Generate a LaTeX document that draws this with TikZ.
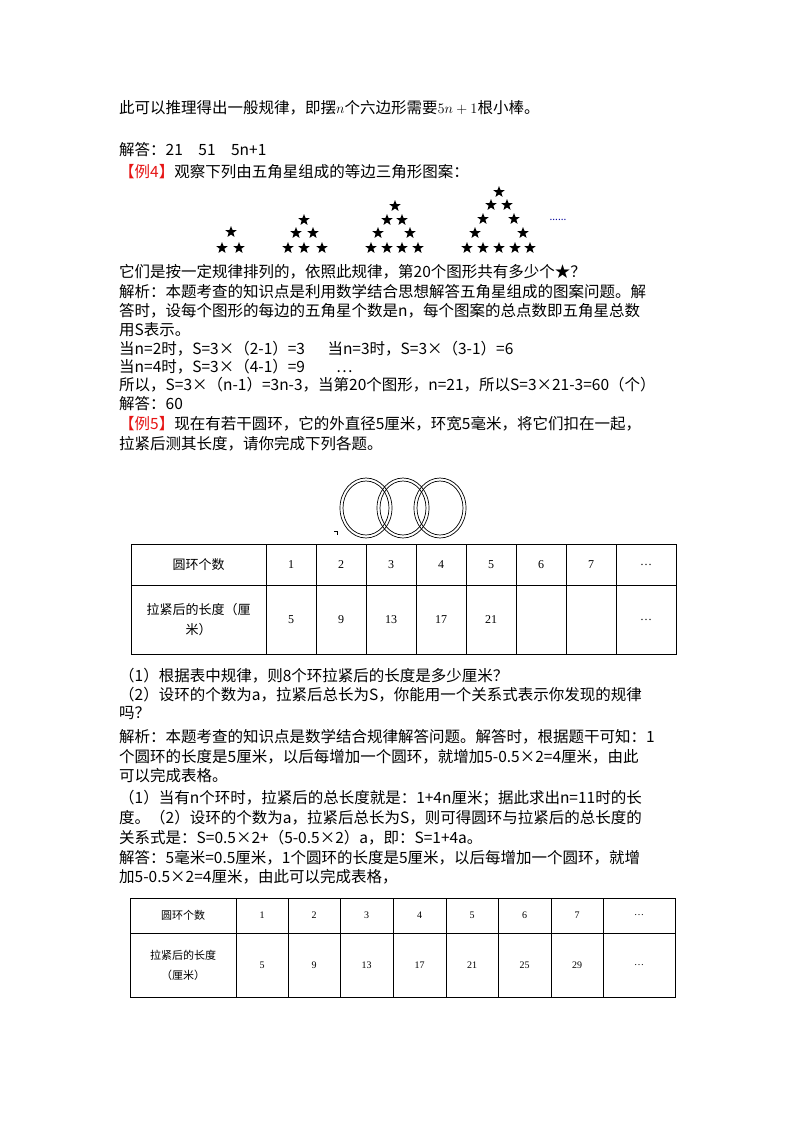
\documentclass[tikz,border=0pt]{standalone}
\usepackage{fontspec}
\setmainfont{Noto Sans CJK SC}
\newfontfamily\numf{Liberation Serif}
\usetikzlibrary{shapes.geometric}
\definecolor{exred}{RGB}{230,20,20}
\begin{document}
\begin{tikzpicture}[x=1pt,y=-1pt,
  txt/.style={anchor=west,inner sep=0pt,font=\fontsize{15.5}{15.5}\selectfont},
  st/.style={star,star points=5,star point ratio=2.4,fill=black,draw=none,minimum size=12pt,inner sep=0pt},
  tb/.style={draw=black,line width=0.9pt},
  c1/.style={font=\fontsize{12}{18}\selectfont\numf,inner sep=0pt},
  c2/.style={font=\fontsize{10}{15}\selectfont\numf,inner sep=0pt}]
\useasboundingbox[fill=white] (0,0) rectangle (800,1132);
\node[txt] (l1) at (119,108) {此可以推理得出一般规律，即摆$n$个六边形需要$5n+1$根小棒。};
\node[txt] (l2) at (119,150) {解答：21\quad 51\quad 5n+1};
\node[txt] (l3) at (119,172) {\textcolor{exred}{【例4】}观察下列由五角星组成的等边三角形图案：};
% stars
\foreach \x/\y [count=\i] in {231/232,222/248,239/248,
 304/220,296/233,313/233,288/248,304/248,322/248,
 395/206,387/220,402/220,378/233,410/233,371/248,387/248,402/248,418/248,
 499/192,491/205,507/205,483/219,514/219,475/233,523/233,467/248,483/248,499/248,515/248,530/248}
 \node[st] (s\i) at (\x,\y) {};
\node[inner sep=0pt,text=blue!60!black] (dots) at (558,220) {\fontsize{10}{10}\selectfont......};
\node[txt] (l4) at (119,272) {它们是按一定规律排列的，依照此规律，第20个图形共有多少个★？};
\node[txt] (l5) at (119,292) {解析：本题考查的知识点是利用数学结合思想解答五角星组成的图案问题。解};
\node[txt] (l6) at (119,311) {答时，设每个图形的每边的五角星个数是n，每个图案的总点数即五角星总数};
\node[txt] (l7) at (119,330) {用S表示。};
\node[txt] (l8) at (119,349) {当n=2时，S=3×（2-1）=3\quad\ \ 当n=3时，S=3×（3-1）=6};
\node[txt] (l9) at (119,367) {当n=4时，S=3×（4-1）=9\qquad …};
\node[txt] (l10) at (119,385) {所以，S=3×（n-1）=3n-3，当第20个图形，n=21，所以S=3×21-3=60（个）};
\node[txt] (l11) at (119,404) {解答：60};
\node[txt] (l12) at (119,424) {\textcolor{exred}{【例5】}现在有若干圆环，它的外直径5厘米，环宽5毫米，将它们扣在一起，};
\node[txt] (l13) at (119,444) {拉紧后测其长度，请你完成下列各题。};
% rings
\foreach \cx [count=\i] in {366,403,440}{
  \draw[line width=0.7pt] (\cx,508) ellipse (26 and 30);
  \draw[line width=0.7pt] (\cx,508) ellipse (23 and 27);
  \coordinate (r\i) at (\cx,508);
}
\draw[line width=0.4pt] (334,531) -- (337,531) -- (337,535);
% table 1
\draw[tb] (131,544) rectangle (676,654);
\draw[tb] (131,585) -- (676,585);
\foreach \x in {266,316,366,416,466,516,566,616} \draw[tb] (\x,544) -- (\x,654);
\node[font=\fontsize{13}{13}\selectfont] (h1) at (198.5,564.5) {圆环个数};
\node[align=center,font=\fontsize{13}{20}\selectfont] (h2) at (198.5,619.5) {拉紧后的长度（厘\\米）};
\foreach \x/\v in {291/1,341/2,391/3,441/4,491/5,541/6,591/7} \node[c1] at (\x,564.5) {\v};
\foreach \x/\v in {291/5,341/9,391/13,441/17,491/21} \node[c1] at (\x,619.5) {\v};
\node[c1] (e1) at (646,564.5) {…};
\node[c1] (e2) at (646,619.5) {…};
\node[txt] (l14) at (119,676) {（1）根据表中规律，则8个环拉紧后的长度是多少厘米？};
\node[txt] (l15) at (119,695) {（2）设环的个数为a，拉紧后总长为S，你能用一个关系式表示你发现的规律};
\node[txt] (l16) at (119,713) {吗？};
\node[txt] (l17) at (119,737) {解析：本题考查的知识点是数学结合规律解答问题。解答时，根据题干可知：1};
\node[txt] (l18) at (119,757) {个圆环的长度是5厘米，以后每增加一个圆环，就增加5-0.5×2=4厘米，由此};
\node[txt] (l19) at (119,776) {可以完成表格。};
\node[txt] (l20) at (119,798) {（1）当有n个环时，拉紧后的总长度就是：1+4n厘米；据此求出n=11时的长};
\node[txt] (l21) at (119,818) {度。（2）设环的个数为a，拉紧后总长为S，则可得圆环与拉紧后的总长度的};
\node[txt] (l22) at (119,838) {关系式是：S=0.5×2+（5-0.5×2）a，即：S=1+4a。};
\node[txt] (l23) at (119,858) {解答：5毫米=0.5厘米，1个圆环的长度是5厘米，以后每增加一个圆环，就增};
\node[txt] (l24) at (119,877) {加5-0.5×2=4厘米，由此可以完成表格，};
% table 2
\draw[tb] (130,898) rectangle (675,997);
\draw[tb] (130,933) -- (675,933);
\foreach \x in {236,288,340,393,446,498,551,603} \draw[tb] (\x,898) -- (\x,997);
\node[font=\fontsize{11}{11}\selectfont] (g1) at (183,915.5) {圆环个数};
\node[align=center,font=\fontsize{11}{20}\selectfont] (g2) at (183,965) {拉紧后的长度\\（厘米）};
\foreach \x/\v in {262/1,314/2,366.5/3,419.5/4,472/5,524.5/6,577/7} \node[c2] at (\x,915.5) {\v};
\foreach \x/\v in {262/5,314/9,366.5/13,419.5/17,472/21,524.5/25,577/29} \node[c2] at (\x,965) {\v};
\node[c2] (f1) at (639,915.5) {…};
\node[c2] (f2) at (639,965) {…};
\end{tikzpicture}
\end{document}
